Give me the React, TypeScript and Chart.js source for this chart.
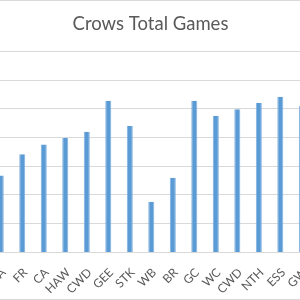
import { useEffect, useRef } from "react";
import { Chart, registerables } from "chart.js";

Chart.register(...registerables);

const categories = ["PA", "FR", "CA", "HAW", "CWD", "GEE", "STK", "WB", "BR", "GC", "WC", "CWD", "NTH", "ESS", "GW"];
const totalGames = [134, 171, 188, 199, 210, 264, 220, 88, 130, 264, 238, 249, 260, 271, 255];
const yMin = 0;
const yMax = 350;
const yStep = 50;
const titleText = "Crows Total Games";

const CANVAS_LEFT = -16;
const CANVAS_W = 333;
const CANVAS_H = 298;

export default function App() {
  const ref = useRef<HTMLCanvasElement | null>(null);

  useEffect(() => {
    const canvas = ref.current;
    if (!canvas) return;
    const chart = new Chart(canvas, {
      type: "bar",
      data: {
        labels: categories,
        datasets: [
          {
            label: "Total Games",
            data: totalGames,
            backgroundColor: "#5B9BD5",
            borderColor: "#7FB0E0",
            borderWidth: { left: 1, right: 1, top: 0, bottom: 0 },
            barPercentage: 0.28,
            categoryPercentage: 1,
          },
        ],
      },
      options: {
        responsive: false,
        animation: false,
        layout: { padding: 0 },
        plugins: {
          legend: { display: false },
          tooltip: { enabled: false },
          title: {
            display: true,
            text: titleText,
            color: "#595959",
            font: { family: "Lato, 'Open Sans', sans-serif", size: 18.5, weight: "normal" },
            padding: { top: 12, bottom: 16.1 },
          },
        },
        scales: {
          x: {
            grid: { display: false },
            border: { display: false },
            ticks: {
              autoSkip: false,
              minRotation: 45,
              maxRotation: 45,
              color: "#595959",
              padding: 5,
              labelOffset: 3,
              font: { family: "Lato, 'Open Sans', sans-serif", size: 12 },
            },
            afterFit: (s: any) => {
              s.height = 46.6;
            },
          },
          y: {
            min: yMin,
            max: yMax,
            ticks: { display: false, stepSize: yStep },
            grid: { color: "#D9D9D9", lineWidth: 1, drawTicks: false },
            border: { display: false },
            afterFit: (s: any) => {
              s.width = 6;
            },
          },
        },
      },
    });
    return () => chart.destroy();
  }, []);

  return (
    <div
      style={{
        position: "fixed",
        left: 0,
        top: 0,
        width: 300,
        height: 300,
        overflow: "hidden",
        background: "#fff",
        boxSizing: "border-box",
        borderTop: "1px solid #D9D9D9",
        borderBottom: "1px solid #D9D9D9",
      }}
    >
      <canvas
        ref={ref}
        width={CANVAS_W}
        height={CANVAS_H}
        style={{ position: "absolute", left: CANVAS_LEFT, top: 0, width: CANVAS_W, height: CANVAS_H }}
      />
    </div>
  );
}
